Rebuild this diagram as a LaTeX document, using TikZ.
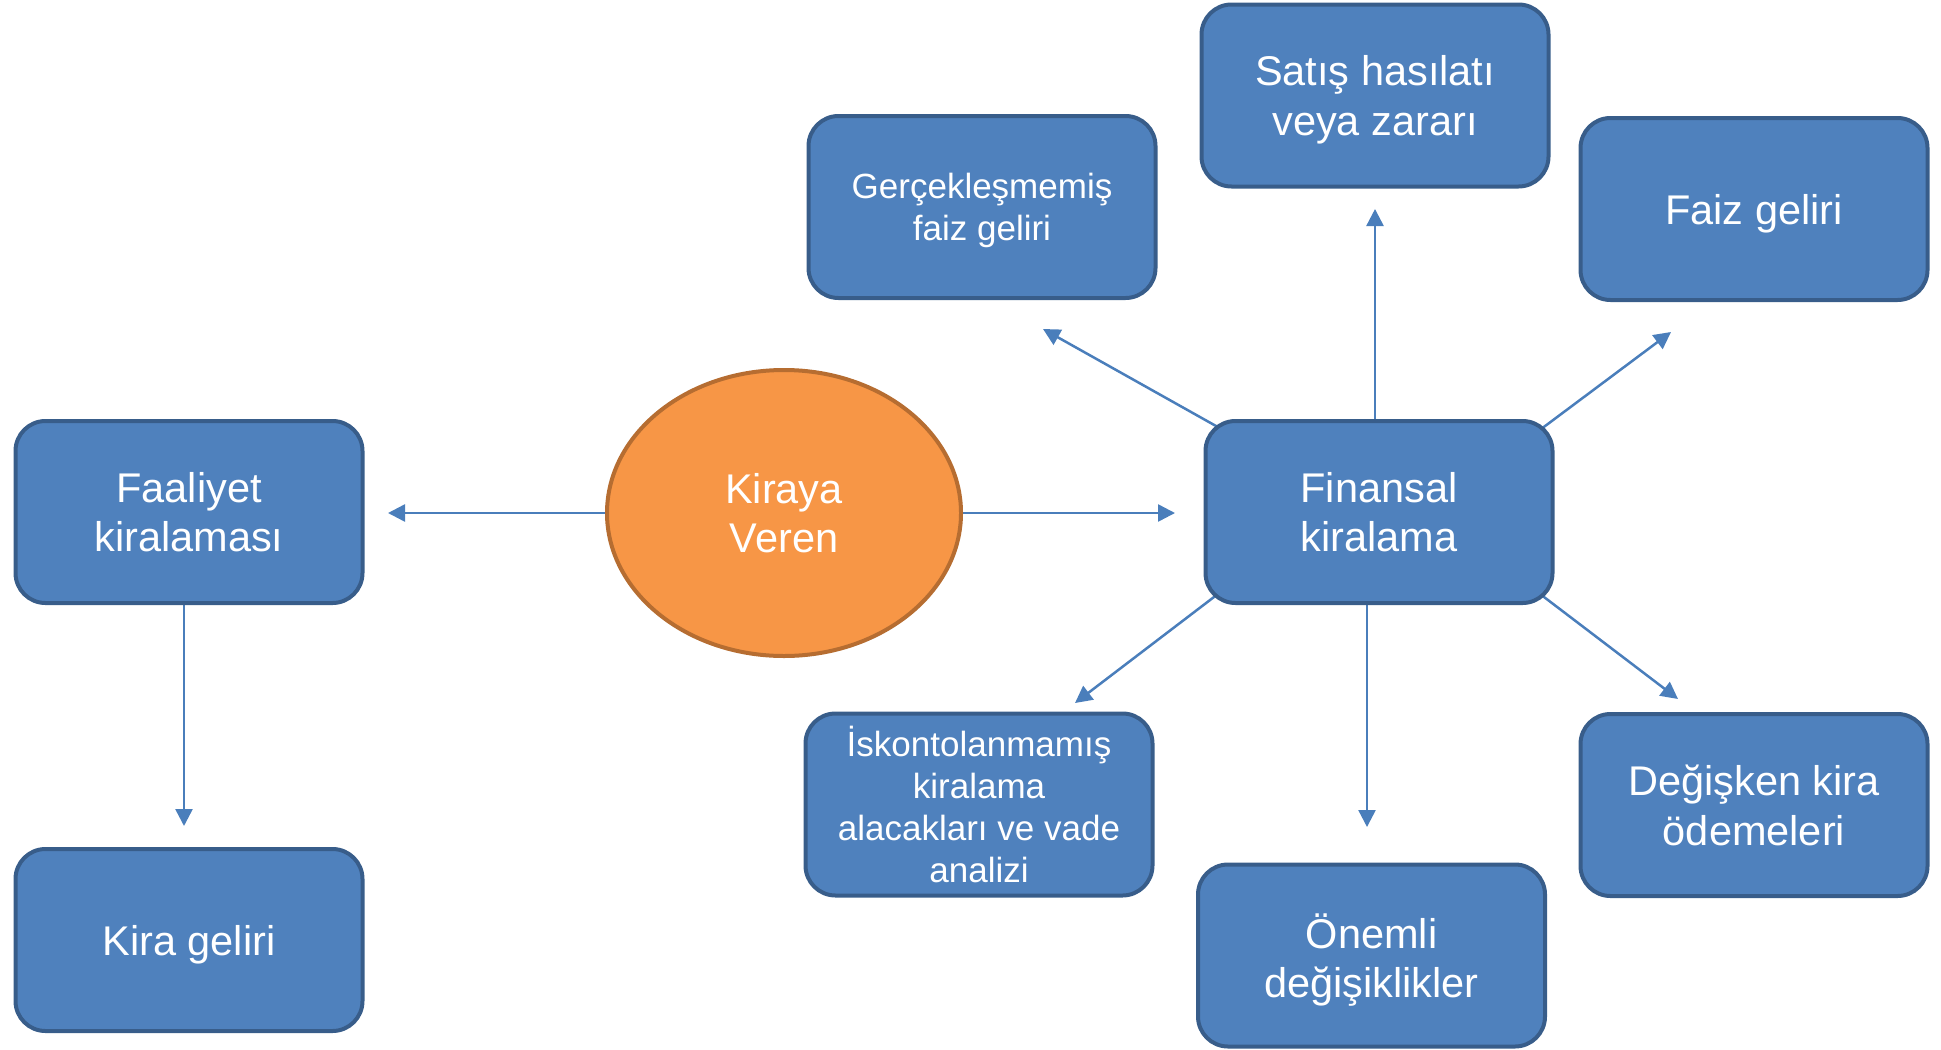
\documentclass[tikz,border=0pt]{standalone}
\usepackage{fontspec}
\setmainfont{Liberation Sans}
\usetikzlibrary{shapes.geometric,arrows.meta,backgrounds}
\definecolor{boxfill}{HTML}{4F81BD}
\definecolor{boxline}{HTML}{385D8A}
\definecolor{ovalfill}{HTML}{F79646}
\definecolor{ovalline}{HTML}{B66D31}
\definecolor{arrline}{HTML}{4A7EBB}

\begin{document}
\begin{tikzpicture}[x=0.5pt,y=-0.5pt,
  box/.style={draw=boxline,fill=boxfill,line width=2pt,rounded corners=15pt,
    minimum width=173.5pt,minimum height=91pt,inner sep=0pt,align=center,
    text depth=0pt,text=white,font=\fontsize{20.75}{24.75}\selectfont},
  smallbox/.style={box,font=\fontsize{17.5}{21}\selectfont},
  oval/.style={ellipse,draw=ovalline,fill=ovalfill,line width=2pt,
    minimum width=177pt,minimum height=143pt,inner sep=0pt,align=center,
    text=white,font=\fontsize{20.75}{24.75}\selectfont},
  arr/.style={draw=arrline,line width=1.25pt,-{Triangle[length=8.5pt,width=8.5pt]}}]
  \useasboundingbox (0,0) rectangle (1941,1049);

  \node[oval] (veren) at (784,513) {Kiraya\\Veren};
  \node[box] (fal) at (189,512) {Faaliyet\\kiralaması};
  \node[box] (kira) at (189,940) {Kira geliri};
  \node[box] (fin) at (1379,512) {Finansal\\kiralama};
  \node[smallbox] (gercek) at (982,207) {Gerçekleşmemiş\\faiz geliri};
  \node[box] (satis) at (1375,95.5) {Satış hasılatı\\veya zararı};
  \node[box] (faiz) at (1754,209) {Faiz geliri};
  \node[smallbox,yshift=1.5pt] (iskonto) at (979,807.5) {İskontolanmamış\\kiralama\\alacakları ve vade\\analizi};
  \node[box] (onemli) at (1371.5,955.5) {Önemli\\değişiklikler};
  \node[box] (degisken) at (1754,805) {Değişken kira\\ödemeleri};

  \coordinate (tipfal) at (388,513);
  \coordinate (tipfin) at (1175,513);
  \coordinate (tipkira) at (184,826);
  \coordinate (tipgercek) at (1043,329);
  \coordinate (tipsatis) at (1375,209);
  \coordinate (tipfaiz) at (1671,332);
  \coordinate (tipiskonto) at (1075,703);
  \coordinate (tiponemli) at (1367,827);
  \coordinate (tipdegisken) at (1678,699);

  \begin{scope}[on background layer]
    \draw[arr] (veren.west) -- (tipfal);
    \draw[arr] (veren.east) -- (tipfin);
    \draw[arr] (fal.south -| tipkira) -- (tipkira);
    \draw[arr,shorten <=-12pt] (fin.north west) -- (tipgercek);
    \draw[arr] (fin.north -| tipsatis) -- (tipsatis);
    \draw[arr,shorten <=-12pt] (fin.north east) -- (tipfaiz);
    \draw[arr,shorten <=-12pt] (fin.south west) -- (tipiskonto);
    \draw[arr] (fin.south -| tiponemli) -- (tiponemli);
    \draw[arr,shorten <=-12pt] (fin.south east) -- (tipdegisken);
  \end{scope}
\end{tikzpicture}
\end{document}
